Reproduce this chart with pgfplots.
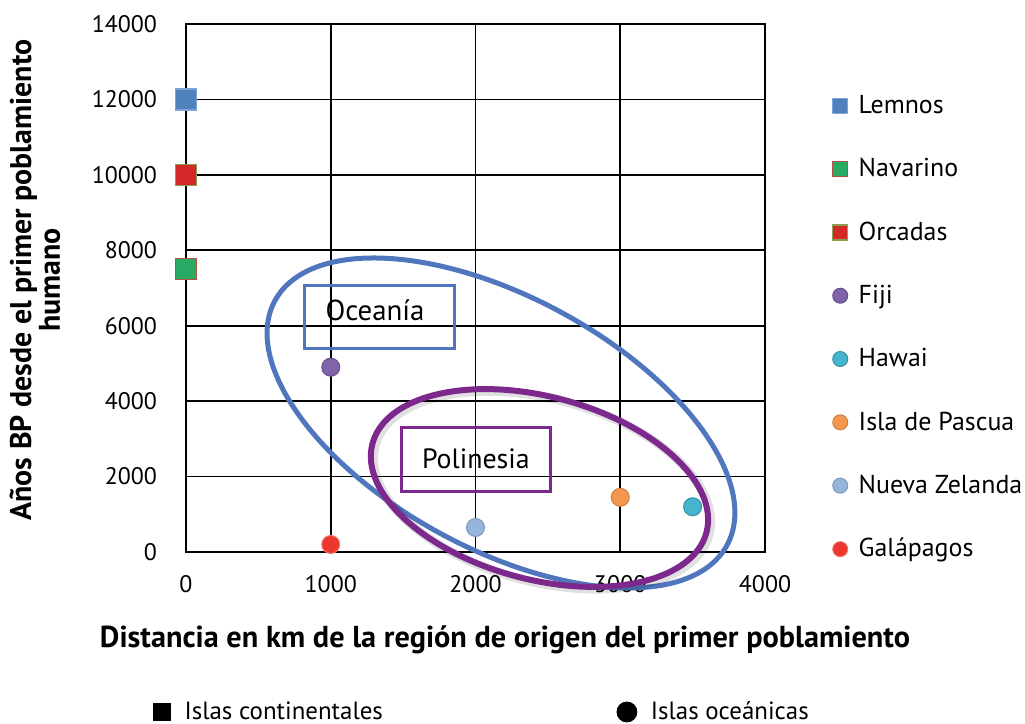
\documentclass[border=0pt]{standalone}
\usepackage{fontspec}
\setmainfont{PT Sans}
\usepackage{pgfplots}
\pgfplotsset{compat=1.18}
\definecolor{cLem}{RGB}{79,129,189}
\definecolor{cLemB}{RGB}{125,165,215}
\definecolor{cNavF}{RGB}{40,170,100}
\definecolor{cNavB}{RGB}{180,80,70}
\definecolor{cOrcF}{RGB}{210,40,40}
\definecolor{cOrcB}{RGB}{140,160,80}
\definecolor{cFij}{RGB}{128,100,170}
\definecolor{cHaw}{RGB}{70,180,205}
\definecolor{cPas}{RGB}{245,150,80}
\definecolor{cNZ}{RGB}{150,180,220}
\definecolor{cGal}{RGB}{235,55,45}
\definecolor{cOce}{RGB}{80,118,190}
\definecolor{cPol}{RGB}{125,40,140}
\begin{document}
\begin{tikzpicture}
\begin{axis}[
  set layers,
  at={(0,0)}, anchor=south west,
  scale only axis, width=289.5bp, height=264bp,
  clip=false,
  xmin=0, xmax=4000, ymin=0, ymax=14000,
  xtick={0,1000,2000,3000,4000},
  ytick={0,2000,4000,6000,8000,10000,12000,14000},
  scaled ticks=false,
  grid=major,
  major grid style={black, line width=0.8bp},
  axis line style={black, line width=0.8bp},
  major tick length=0pt,
  tick label style={font=\fontsize{12}{14}\selectfont},
  /pgf/number format/assume math mode=true,
  /pgf/number format/1000 sep={},
  yticklabel style={xshift=-11bp},
  xticklabel style={yshift=-8bp},
  xlabel={Distancia en km de la región de origen del primer poblamiento},
  xlabel style={at={(axis description cs:0.551,-0.166)}, anchor=center,
    font=\bfseries\fontsize{15.2}{17}\selectfont},
  ylabel={Años BP desde el primer poblamiento\\humano},
  ylabel style={at={(axis description cs:-0.261,0.515)}, anchor=center,
    align=center, font=\bfseries\fontsize{15}{14.5}\selectfont},
  legend style={at={(axis description cs:1.106,0.881)}, anchor=north west,
    draw=none, fill=none, font=\fontsize{13}{15}\selectfont,
    row sep=17bp, cells={anchor=west},
    /tikz/every odd column/.append style={column sep=3.5bp}},
  legend image post style={mark size=3.75bp},
]
\addplot[only marks, mark=square*, mark size=5.25bp,
  mark options={fill=cLem, draw=cLemB, line width=0.7bp}] coordinates {(0,12000)};
\addlegendentry{Lemnos}
\addplot[only marks, mark=square*, mark size=5.25bp,
  mark options={fill=cNavF, draw=cNavB, line width=0.7bp}] coordinates {(0,7500)};
\addlegendentry{Navarino}
\addplot[only marks, mark=square*, mark size=5.25bp,
  mark options={fill=cOrcF, draw=cOrcB, line width=0.7bp}] coordinates {(0,10000)};
\addlegendentry{Orcadas}
\addplot[only marks, mark=*, mark size=4.5bp,
  mark options={fill=cFij, draw=cFij!80!black, line width=0.5bp}] coordinates {(1000,4900)};
\addlegendentry{Fiji}
\addplot[only marks, mark=*, mark size=4.5bp,
  mark options={fill=cHaw, draw=cHaw!80!black, line width=0.5bp}] coordinates {(3500,1200)};
\addlegendentry{Hawai}
\addplot[only marks, mark=*, mark size=4.5bp,
  mark options={fill=cPas, draw=cPas!85!black, line width=0.5bp}] coordinates {(3000,1450)};
\addlegendentry{Isla de Pascua}
\addplot[only marks, mark=*, mark size=4.5bp,
  mark options={fill=cNZ, draw=cNZ!85!black, line width=0.5bp}] coordinates {(2000,650)};
\addlegendentry{Nueva Zelanda}
\addplot[only marks, mark=*, mark size=4.5bp,
  mark options={fill=cGal, draw=cGal!70!white, line width=0.5bp}] coordinates {(1000,200)};
\addlegendentry{Galápagos}
% annotations
\draw[cOce, line width=2.5bp, rotate around={-28.4:(axis cs:2176,3421)}]
  (axis cs:2176,3421) ellipse [x radius=128.5bp, y radius=63bp];
\draw[black, opacity=0.12, line width=4.5bp, rotate around={-14.9:(axis cs:2460,1640)}]
  (axis cs:2460,1640) ellipse [x radius=86.4bp, y radius=45.7bp];
\draw[cPol, line width=3bp, rotate around={-14.9:(axis cs:2442,1697)}]
  (axis cs:2442,1697) ellipse [x radius=86.4bp, y radius=45.7bp];
\draw[cOce, line width=1.5bp] (axis cs:822,5383) rectangle (axis cs:1858,7054);
\node[font=\fontsize{14.5}{16}\selectfont] at (axis cs:1306,6417) {Oceanía};
\draw[cPol, line width=1.5bp] (axis cs:1492,1591) rectangle (axis cs:2515,3288);
\node[font=\fontsize{14}{16}\selectfont] at (axis cs:2003,2466) {Polinesia};
\end{axis}
\begin{axis}[
  at={(0,0)}, anchor=south west,
  scale only axis, width=289.5bp, height=264bp,
  hide axis, xmin=0, xmax=1, ymin=0, ymax=1,
  legend columns=2,
  legend style={at={(axis description cs:-0.067,-0.303)}, anchor=west,
    draw=none, fill=none, font=\fontsize{12.5}{14}\selectfont,
    /tikz/every odd column/.append style={column sep=5bp},
    /tikz/every even column/.append style={column sep=115bp}},
]
\addplot[draw=none, forget plot] coordinates {(0.5,0.5)};
\addlegendimage{only marks, mark=square*, black, mark size=4.25bp}
\addlegendentry{Islas continentales}
\addlegendimage{only marks, mark=*, black, mark size=5bp}
\addlegendentry{Islas oceánicas}
\end{axis}
\pgfresetboundingbox
\path[use as bounding box] (-93bp,-86bp) rectangle (419.5bp,276bp);
\end{tikzpicture}
\end{document}
